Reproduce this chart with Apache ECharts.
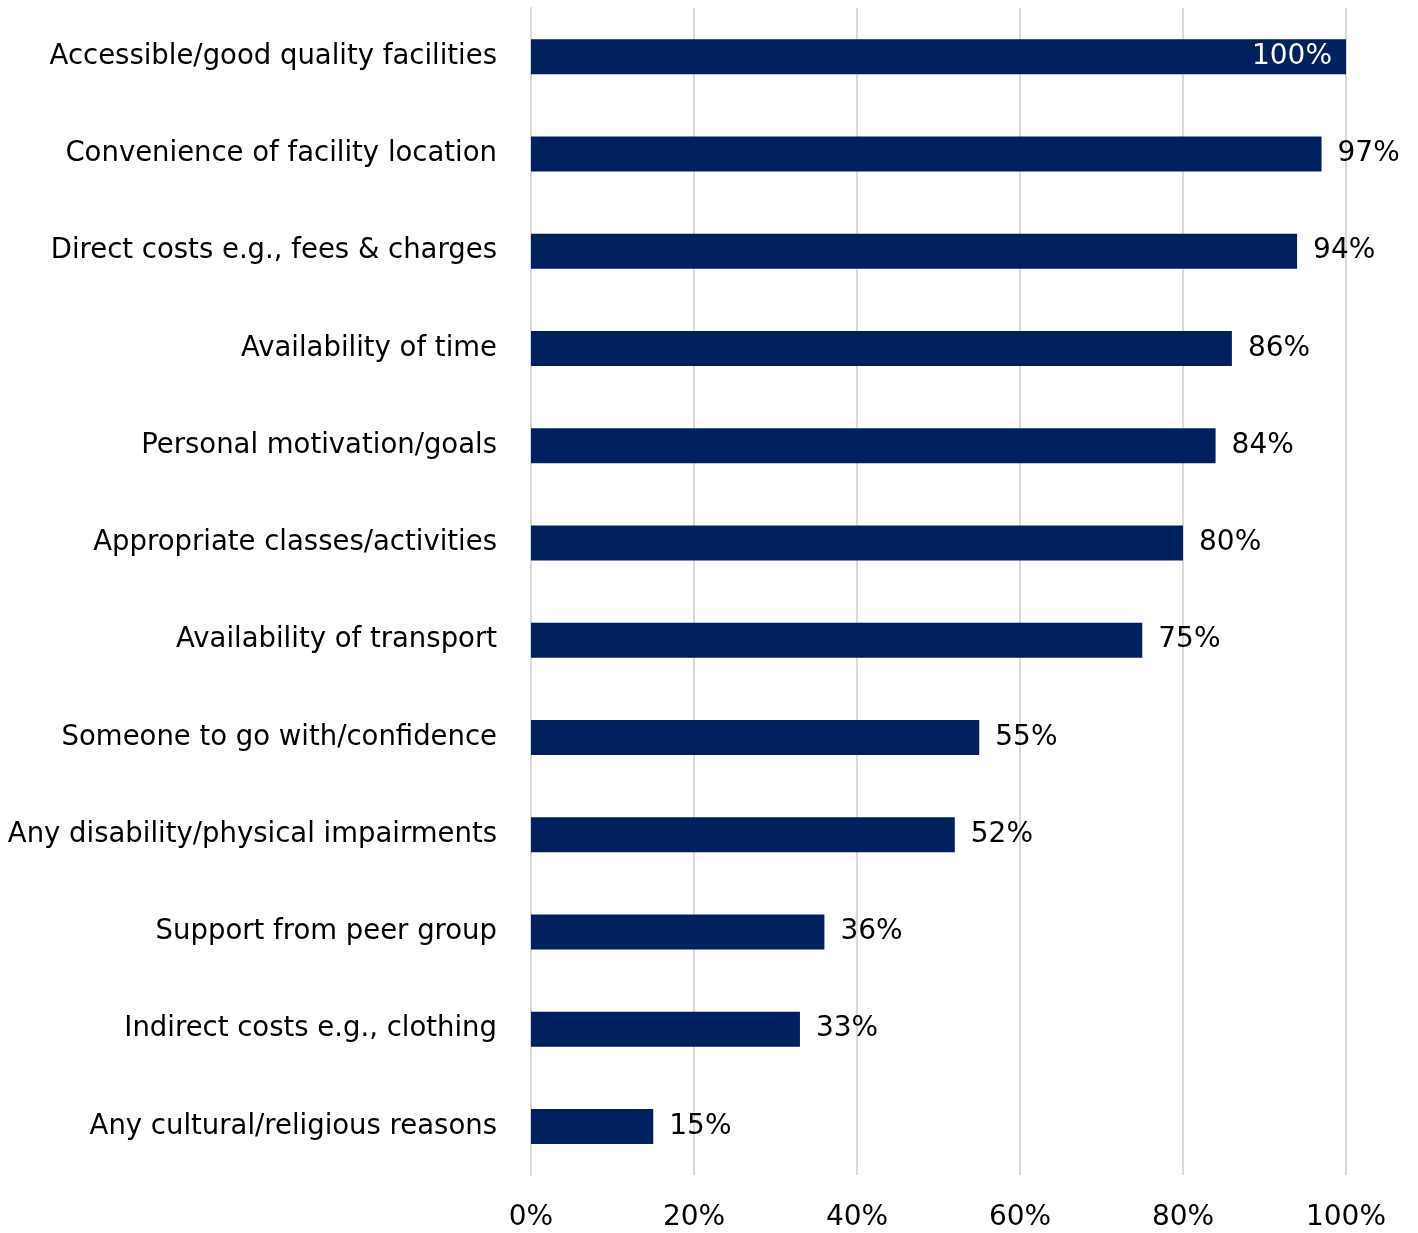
<!DOCTYPE html>
<html>

<head>
    <meta charset="utf-8">
    <script src="https://cdn.jsdelivr.net/npm/echarts@6/dist/echarts.min.js"></script>
    <style>
        html, body { margin: 0; padding: 0; background: #fff; }
        #main { width: 1418px; height: 1233px; }
    </style>
</head>

<body>
    <div id="main"></div>
</body>
<script>
    // categories listed top to bottom
    var categories = [
        'Accessible/good quality facilities',
        'Convenience of facility location',
        'Direct costs e.g., fees & charges',
        'Availability of time',
        'Personal motivation/goals',
        'Appropriate classes/activities',
        'Availability of transport',
        'Someone to go with/confidence',
        'Any disability/physical impairments',
        'Support from peer group',
        'Indirect costs e.g., clothing',
        'Any cultural/religious reasons'
    ];
    var values = [100, 97, 94, 86, 84, 80, 75, 55, 52, 36, 33, 15];
    var xTicks = [0, 20, 40, 60, 80, 100];

    var font = 'DejaVu Sans';
    var navy = '#002060';

    var barData = values.map(function (v, i) {
        var item = { value: v };
        if (i === 0) {
            item.label = { position: 'insideRight', color: '#fff', distance: 14 };
        }
        return item;
    });

    var myChart = echarts.init(document.getElementById('main'));
    myChart.setOption({
        animation: false,
        grid: { left: 531, right: 72, top: 8, bottom: 58, containLabel: false, outerBoundsMode: 'none' },
        xAxis: {
            type: 'value',
            min: xTicks[0],
            max: xTicks[xTicks.length - 1],
            interval: 20,
            axisLine: { show: false },
            axisTick: { show: false },
            splitLine: { lineStyle: { color: '#d9d9d9', width: 2 } },
            axisLabel: {
                formatter: '{value}%',
                fontFamily: font,
                fontSize: 28,
                color: '#000',
                margin: 29
            }
        },
        yAxis: {
            type: 'category',
            inverse: true,
            data: categories,
            axisLine: { show: true, lineStyle: { color: '#d9d9d9', width: 2 } },
            axisTick: { show: false },
            axisLabel: {
                fontFamily: font,
                fontSize: 27.5,
                color: '#000',
                margin: 34
            }
        },
        series: [{
            type: 'bar',
            data: barData,
            barWidth: 35,
            itemStyle: { color: navy },
            label: {
                show: true,
                position: 'right',
                distance: 16,
                formatter: '{c}%',
                fontFamily: font,
                fontSize: 28,
                color: '#000'
            }
        }]
    });
</script>

</html>
